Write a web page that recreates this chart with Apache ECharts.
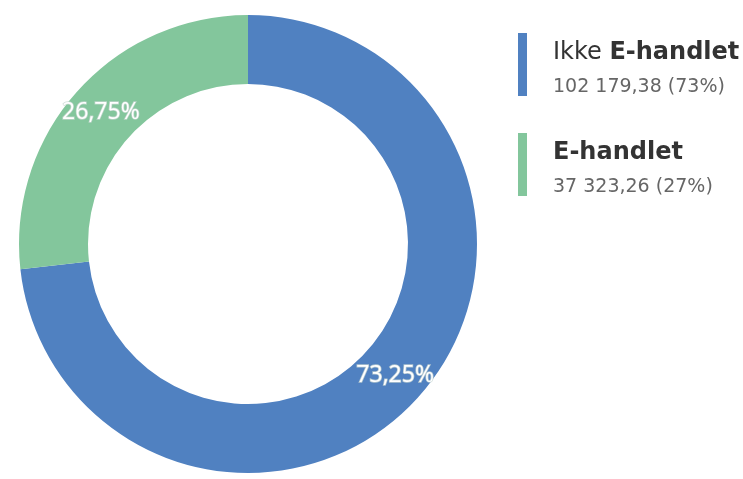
<!DOCTYPE html>
<html><head><meta charset="utf-8">
<script src="https://cdn.jsdelivr.net/npm/echarts@6/dist/echarts.min.js"></script>
<style>html,body{margin:0;padding:0;background:#fff}#c{width:743px;height:479px}</style>
</head><body><div id="c"></div>
<script>
const categories = ['Ikke E-handlet', 'E-handlet'];
const values = [102179.38, 37323.26];
const colors = ['#5081C1', '#83C69C'];

const total = values.reduce((a, b) => a + b, 0);
function fmtNum(v) {
  const parts = v.toFixed(2).split('.');
  const intPart = parts[0].replace(/\B(?=(\d{3})+(?!\d))/g, ' ');
  return intPart + ',' + parts[1];
}
const chart = echarts.init(document.getElementById('c'));
chart.setOption({
  animation: false,
  color: colors,
  legend: {
    orient: 'vertical',
    left: 518,
    top: 33,
    padding: 0,
    itemWidth: 9,
    itemHeight: 63,
    itemGap: 36,
    icon: 'rect',
    selectedMode: false,
    data: categories,
    formatter: function (name) {
      const i = categories.indexOf(name);
      const pct = Math.round(values[i] / total * 100);
      const val = fmtNum(values[i]) + ' (' + pct + '%)';
      if (name.indexOf('Ikke ') === 0) {
        return '{n|Ikke }{b|' + name.slice(5) + '}\n{v|' + val + '}';
      }
      return '{b|' + name + '}\n{v|' + val + '}';
    },
    textStyle: {
      padding: [14, 0, 0, 21],
      rich: {
        n: { fontFamily: 'DejaVu Sans', fontSize: 24, color: '#333', lineHeight: 32 },
        b: { fontFamily: 'DejaVu Sans', fontSize: 24, fontWeight: 'bold', color: '#333', lineHeight: 32 },
        v: { fontFamily: 'DejaVu Sans', fontSize: 19, color: '#666', lineHeight: 38 }
      }
    }
  },
  series: [{
    type: 'pie',
    center: [248, 244],
    radius: [160, 229],
    startAngle: 90,
    clockwise: true,
    silent: true,
    label: {
      show: true,
      position: 'inside',
      formatter: function (p) { return p.percent.toFixed(2).replace('.', ',') + '%'; },
      color: '#fff',
      fontFamily: 'Open Sans',
      fontSize: 23,
      textBorderColor: 'rgba(200,215,210,0.8)',
      textBorderWidth: 1.5
    },
    labelLine: { show: false },
    data: categories.map((c, i) => ({ name: c, value: values[i] }))
  }]
});
</script></body></html>
